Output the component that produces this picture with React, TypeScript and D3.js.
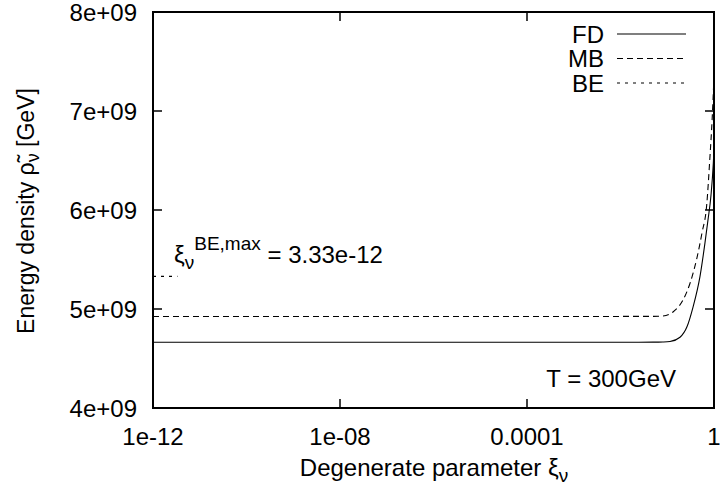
import React from 'react';
import * as d3 from 'd3';

// ---- data ----
const xTicks = [1e-12, 1e-8, 1e-4, 1];
const xTickLabels = ['1e-12', '1e-08', '0.0001', '1'];
const yTicks = [4e9, 5e9, 6e9, 7e9, 8e9];
const yTickLabels = ['4e+09', '5e+09', '6e+09', '7e+09', '8e+09'];

const xiFD = [1e-12, 1e-8, 1e-4, 0.01, 0.05, 0.081, 0.1145, 0.1875, 0.264, 0.356, 0.502, 0.642, 0.744, 0.863, 0.966, 1];
const rhoFD = [4.664e9, 4.664e9, 4.664e9, 4.664e9, 4.665e9, 4.667e9, 4.672e9, 4.715e9, 4.82e9, 5.02e9, 5.33e9, 5.67e9, 5.9e9, 6.15e9, 6.47e9, 6.62e9];

const xiMB = [1e-12, 1e-8, 1e-4, 0.01, 0.05, 0.081, 0.133, 0.217, 0.307, 0.433, 0.554, 0.698, 0.815, 0.909, 1];
const rhoMB = [4.925e9, 4.925e9, 4.925e9, 4.925e9, 4.926e9, 4.93e9, 4.97e9, 5.09e9, 5.26e9, 5.52e9, 5.77e9, 6.05e9, 6.52e9, 6.9e9, 7.35e9];

const xiBE = [1e-12, 3.33e-12];
const rhoBE = [5.33e9, 5.33e9];

const seriesNames = ['FD', 'MB', 'BE'];
const seriesDash = ['none', '6,4', '3,5'];

const W = 720;
const H = 491;
const L = 153, R = 714, T = 12, B = 408;
const FONT = "'Liberation Sans', Arial, Helvetica, sans-serif";

export default function App() {
  const x = d3.scaleLog().domain([1e-12, 1]).range([L, R]);
  const y = d3.scaleLinear().domain([4e9, 8e9]).range([B, T]);
  const line = d3
    .line<[number, number]>()
    .x((d) => x(d[0]))
    .y((d) => y(d[1]))
    .curve(d3.curveMonotoneX);

  const series = [
    d3.zip(xiFD, rhoFD) as [number, number][],
    d3.zip(xiMB, rhoMB) as [number, number][],
    d3.zip(xiBE, rhoBE) as [number, number][],
  ];

  const tickLen = 9;
  const fs = 24;
  const fsSmall = 19;

  return (
    <svg
      width={W}
      height={H}
      style={{ position: 'absolute', left: 0, top: 0, background: '#fff' }}
      fontFamily={FONT}
    >
      <defs>
        <clipPath id="plot">
          <rect x={L} y={T} width={R - L} height={B - T} />
        </clipPath>
      </defs>
      <rect x={0} y={0} width={W} height={H} fill="#fff" />

      {/* curves */}
      <g clipPath="url(#plot)">
        {series.map((s, i) => (
          <path
            key={i}
            d={line(s) || ''}
            fill="none"
            stroke="#000"
            strokeWidth={1.1}
            strokeDasharray={seriesDash[i]}
          />
        ))}
      </g>

      {/* ticks */}
      {xTicks.map((t, i) => (
        <g key={'xt' + i}>
          <line x1={x(t)} x2={x(t)} y1={B} y2={B - tickLen} stroke="#000" strokeWidth={1.5} />
          <line x1={x(t)} x2={x(t)} y1={T} y2={T + tickLen} stroke="#000" strokeWidth={1.5} />
          <text x={x(t)} y={445} textAnchor="middle" fontSize={fs}>
            {xTickLabels[i]}
          </text>
        </g>
      ))}
      {yTicks.map((t, i) => (
        <g key={'yt' + i}>
          <line x1={L} x2={L + tickLen} y1={y(t)} y2={y(t)} stroke="#000" strokeWidth={1.5} />
          <line x1={R} x2={R - tickLen} y1={y(t)} y2={y(t)} stroke="#000" strokeWidth={1.5} />
          <text x={137} y={y(t)} dy="0.36em" textAnchor="end" fontSize={fs}>
            {yTickLabels[i]}
          </text>
        </g>
      ))}

      {/* frame */}
      <rect x={L} y={T} width={R - L} height={B - T} fill="none" stroke="#000" strokeWidth={2} />

      {/* legend */}
      {seriesNames.map((n, i) => {
        const ly = 34 + i * 24.5;
        return (
          <g key={n}>
            <text x={604} y={ly} dy="0.36em" textAnchor="end" fontSize={fs}>
              {n}
            </text>
            <line x1={617} x2={686} y1={ly} y2={ly} stroke="#000" strokeWidth={1.1} strokeDasharray={seriesDash[i]} />
          </g>
        );
      })}

      {/* annotations */}
      <text x={676} y={387} textAnchor="end" fontSize={fs}>
        T = 300GeV
      </text>
      <text x={174} y={263} fontSize={fs}>
        ξ
        <tspan fontSize={fsSmall} dy={6}>ν</tspan>
        <tspan fontSize={fsSmall} dy={-19}>BE,max</tspan>
        <tspan dy={13}> = 3.33e-12</tspan>
      </text>

      {/* axis titles */}
      <text x={434} y={476} textAnchor="middle" fontSize={fs}>
        Degenerate parameter ξ
        <tspan fontSize={fsSmall} dy={6}>ν</tspan>
      </text>
      <text transform={`translate(34,211) rotate(-90)`} textAnchor="middle" fontSize={23}>
        Energy density ρ̃
        <tspan fontSize={18} dy={5}>ν</tspan>
        <tspan dy={-5}> [GeV]</tspan>
      </text>
    </svg>
  );
}
